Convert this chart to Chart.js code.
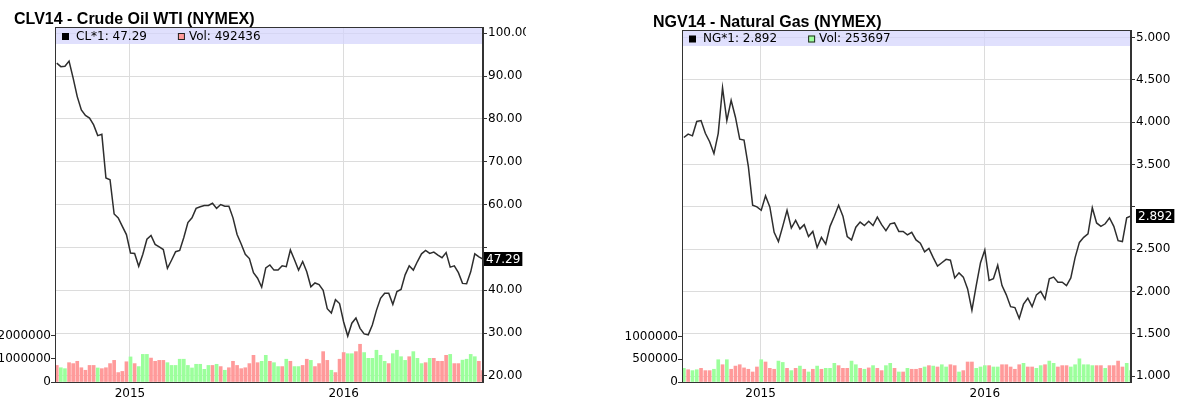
<!DOCTYPE html>
<html><head><meta charset="utf-8">
<script src="https://cdn.jsdelivr.net/npm/chart.js@4.4.1/dist/chart.umd.min.js"></script>
<style>
html,body{margin:0;padding:0;background:#fff;width:1177px;height:401px;overflow:hidden}
.box{position:absolute;top:0;height:401px}
#b1{left:0;width:526px}
#b2{left:600px;width:577px}
canvas{display:block}
</style></head><body>
<div class="box" id="b1"><canvas id="c1" width="526" height="401"></canvas></div>
<div class="box" id="b2"><canvas id="c2" width="577" height="401"></canvas></div>
<script>
// ---------- data ----------
const weeks = [
'2014-08-29','2014-09-05','2014-09-12','2014-09-19','2014-09-26','2014-10-03','2014-10-10','2014-10-17','2014-10-24','2014-10-31',
'2014-11-07','2014-11-14','2014-11-21','2014-11-28','2014-12-05','2014-12-12','2014-12-19','2014-12-26',
'2015-01-02','2015-01-09','2015-01-16','2015-01-23','2015-01-30','2015-02-06','2015-02-13','2015-02-20','2015-02-27',
'2015-03-06','2015-03-13','2015-03-20','2015-03-27','2015-04-03','2015-04-10','2015-04-17','2015-04-24',
'2015-05-01','2015-05-08','2015-05-15','2015-05-22','2015-05-29','2015-06-05','2015-06-12','2015-06-19','2015-06-26',
'2015-07-03','2015-07-10','2015-07-17','2015-07-24','2015-07-31','2015-08-07','2015-08-14','2015-08-21','2015-08-28',
'2015-09-04','2015-09-11','2015-09-18','2015-09-25','2015-10-02','2015-10-09','2015-10-16','2015-10-23','2015-10-30',
'2015-11-06','2015-11-13','2015-11-20','2015-11-27','2015-12-04','2015-12-11','2015-12-18','2015-12-25',
'2016-01-01','2016-01-08','2016-01-15','2016-01-22','2016-01-29','2016-02-05','2016-02-12','2016-02-19','2016-02-26',
'2016-03-04','2016-03-11','2016-03-18','2016-03-25','2016-04-01','2016-04-08','2016-04-15','2016-04-22','2016-04-29',
'2016-05-06','2016-05-13','2016-05-20','2016-05-27','2016-06-03','2016-06-10','2016-06-17','2016-06-24',
'2016-07-01','2016-07-08','2016-07-15','2016-07-22','2016-07-29','2016-08-05','2016-08-12','2016-08-19','2016-08-26'
];
const axisStartDate = '2014-08-26';
const axisEndDate = '2016-08-26';
const yearTickDates = ['2015-01-01','2016-01-01'];
const yearTickLabels = ['2015','2016'];

const clPrice = [
93.0,92.2,92.3,93.5,89.5,85.2,82.1,80.8,80.2,78.6,
76.1,76.4,66.2,65.8,57.8,56.9,54.9,53.0,48.7,48.6,
45.6,48.4,51.9,52.8,50.7,50.1,49.5,45.1,47.0,49.0,
49.3,52.3,55.8,56.9,59.1,59.5,59.8,59.8,60.3,59.1,
60.0,59.6,59.6,56.9,53.0,50.8,48.4,47.4,44.1,42.8,
40.7,45.2,45.9,44.7,44.7,45.7,45.5,49.4,47.1,44.7,
46.7,44.3,40.8,41.7,41.3,40.0,35.7,34.7,37.8,36.9,
32.6,29.3,32.3,33.5,31.1,29.8,29.6,31.9,35.3,38.1,
39.3,39.3,36.7,39.7,40.2,43.6,45.7,44.7,46.7,48.5,
49.3,48.6,48.9,48.2,47.6,48.8,45.4,45.7,44.1,41.6,
41.5,44.3,48.5,47.8,47.29
];
const clVolume = [
720000,620000,580000,840000,800000,900000,620000,510000,720000,720000,
610000,580000,620000,800000,940000,410000,460000,880000,1090000,800000,
670000,1200000,1200000,1040000,900000,940000,940000,840000,720000,720000,
990000,990000,720000,610000,770000,770000,550000,720000,720000,770000,
670000,510000,620000,900000,720000,580000,620000,800000,1160000,840000,
900000,1160000,900000,840000,670000,670000,990000,900000,670000,670000,
720000,990000,940000,670000,800000,1320000,940000,510000,410000,990000,
1280000,1230000,1230000,1320000,1640000,1280000,1030000,1030000,1380000,1160000,
900000,800000,1230000,1380000,1100000,940000,1100000,1320000,1030000,800000,
840000,1030000,1030000,900000,900000,1160000,1200000,800000,800000,950000,
990000,1200000,1100000,900000,492436
];
const clVolDir = ('rggrrrrrrr'+'grrrrrrrgr'+'gggrrrrggg'+'ggggggggrg'+'rgrrrrrrrr'+
                  'ggrggrgrgg'+'rrgrrrrgrr'+'rggrrggggg'+'grggggrggg'+'rgrrrrgrrg'+'gggrr').split('');

const ngPrice = [
3.82,3.86,3.84,4.01,4.02,3.87,3.77,3.63,3.87,4.41,
4.02,4.26,4.06,3.80,3.79,3.48,3.02,3.00,2.96,3.13,
3.00,2.70,2.59,2.77,2.96,2.75,2.84,2.74,2.79,2.65,
2.71,2.52,2.64,2.56,2.77,2.89,3.02,2.89,2.65,2.61,
2.76,2.82,2.78,2.83,2.78,2.88,2.79,2.72,2.80,2.81,
2.71,2.71,2.67,2.70,2.61,2.57,2.47,2.51,2.40,2.30,
2.34,2.38,2.37,2.16,2.22,2.17,2.03,1.78,2.07,2.34,
2.49,2.13,2.15,2.31,2.07,1.96,1.82,1.81,1.68,1.85,
1.92,1.82,1.96,2.00,1.91,2.15,2.17,2.11,2.11,2.07,
2.16,2.40,2.58,2.64,2.68,2.99,2.81,2.77,2.80,2.87,
2.77,2.60,2.59,2.87,2.892
];
const ngVolume = [
300000,270000,250000,270000,300000,250000,250000,280000,490000,380000,
490000,280000,350000,380000,310000,280000,220000,330000,490000,440000,
300000,280000,460000,430000,300000,250000,300000,350000,280000,220000,
280000,350000,280000,300000,300000,410000,360000,300000,300000,460000,
380000,300000,280000,310000,360000,300000,250000,360000,410000,300000,
220000,220000,300000,280000,280000,300000,330000,360000,350000,330000,
380000,330000,380000,360000,220000,250000,440000,440000,300000,330000,
360000,360000,330000,330000,380000,380000,330000,280000,380000,410000,
330000,330000,300000,360000,380000,460000,410000,330000,360000,360000,
330000,380000,510000,380000,380000,360000,360000,360000,300000,360000,
360000,460000,330000,410000,253697
];
const ngVolDir = ('grggrrrggr'+'grrrrrrrgr'+'rrggrgrgrg'+'rgrgggrrrg'+'grgrgrrggr'+
                  'grgrrrgrgr'+'ggrrgrrrgg'+'grggrrrrrg'+'rrggrggrrr'+'ggggggrrgr'+'rrrgg').split('');

const clPriceTicks = [20,30,40,50,60,70,80,90,100];
const ngPriceTicks = [1.0,1.5,2.0,2.5,3.0,3.5,4.0,4.5,5.0];
const clVolTicks = [0,1000000,2000000];
const ngVolTicks = [0,500000,1000000];

// ---------- drawing ----------
Chart.defaults.font.family = '"DejaVu Sans", sans-serif';
Chart.defaults.font.size = 12;
Chart.defaults.color = '#000';

function dayNum(s){ return Date.UTC(+s.slice(0,4), +s.slice(5,7)-1, +s.slice(8,10))/86400000; }
const RED = '#ff9a9a', GREEN = '#9cff9c';

function panel(o){
  const plotH = 382 - o.top;
  const pxPerUnit = plotH / (o.pMax - o.pMin);
  const last = o.price[o.price.length-1];
  const lastVol = o.vol[o.vol.length-1];
  const lastDir = o.dir[o.dir.length-1];
  const decor = {
    id:'decor',
    beforeDatasetsDraw(ch){
      const a = ch.chartArea, c = ch.ctx;
      c.save();
      c.fillStyle = 'rgba(212,212,252,0.72)';
      c.fillRect(a.left+1, a.top+1, a.right-a.left-2, o.band);
      c.restore();
    },
    afterDraw(ch){
      const a = ch.chartArea, c = ch.ctx;
      c.save();
      c.strokeStyle = '#333'; c.lineWidth = 1;
      c.strokeRect(Math.round(a.left)+0.5, Math.round(a.top)+0.5, Math.round(a.right-a.left)-1, Math.round(a.bottom-a.top));
      c.font = '12px "DejaVu Sans"';
      c.textBaseline = 'middle';
      const ly = a.top + o.band/2 + 1.5;
      c.fillStyle = '#000';
      c.fillRect(a.left+7, ly-3.5, 7, 7);
      const t1 = o.sym + ': ' + last.toFixed(o.dec);
      c.fillText(t1, a.left+21, ly);
      const sx = a.left + 21 + c.measureText(t1).width + 31;
      c.fillStyle = lastDir === 'g' ? GREEN : RED;
      c.fillRect(sx, ly-3.5, 7, 7);
      c.strokeStyle = '#222';
      c.strokeRect(sx+0.5, ly-3.5+0.5, 6, 6);
      c.fillStyle = '#000';
      c.fillText('Vol: ' + lastVol, sx+11, ly);
      c.font = 'bold 16px "Liberation Sans"';
      c.textBaseline = 'alphabetic';
      c.fillText(o.title, o.titleX, o.titleY);
      const y = ch.scales.yp.getPixelForValue(last);
      c.font = '12px "DejaVu Sans"';
      const txt = last.toFixed(o.dec);
      const w = c.measureText(txt).width;
      c.fillStyle = '#000';
      c.fillRect(a.right + o.boxOff, Math.round(y) - 7, w + 4, 14);
      c.fillStyle = '#fff';
      c.textBaseline = 'middle';
      c.fillText(txt, a.right + o.boxOff + 2, Math.round(y) + 0.5);
      c.restore();
    }
  };
  return new Chart(document.getElementById(o.canvas), {
    data: {
      datasets: [
        { type:'line', yAxisID:'yp', xAxisID:'x', order:0,
          data: weeks.map((d,i)=>({x:dayNum(d), y:o.price[i]})),
          borderColor:'#2e2e2e', borderWidth:1.5, pointRadius:0, tension:0, fill:false },
        { type:'bar', yAxisID:'yv', xAxisID:'x', order:1,
          data: weeks.map((d,i)=>({x:dayNum(d), y:o.vol[i]})),
          backgroundColor: o.dir.map(s => s==='g' ? GREEN : RED),
          barThickness:3, borderWidth:0 }
      ]
    },
    options: {
      responsive:false, animation:false, devicePixelRatio:1,
      layout:{ padding:{ top:o.top, left:0, right:0, bottom:0 } },
      plugins:{ legend:{display:false}, tooltip:{enabled:false}, title:{display:false} },
      scales:{
        x:{ type:'linear', position:'bottom', offset:false, min:dayNum(axisStartDate), max:dayNum(axisEndDate),
            afterBuildTicks: s => { s.ticks = yearTickDates.map(d => ({value:dayNum(d)})); },
            ticks:{ autoSkip:false, maxRotation:0, padding:1,
              callback: v => { const i = yearTickDates.findIndex(d => dayNum(d) === v); return i >= 0 ? yearTickLabels[i] : ''; } },
            grid:{ offset:false, color:'#dcdcdc', tickLength:4, tickColor:'rgba(0,0,0,0)' },
            border:{ color:'#333' },
            afterFit: s => { s.height = 401 - 382; } },
        yp:{ type:'linear', position:'right', min:o.pMin, max:o.pMax,
            afterBuildTicks: s => { s.ticks = o.pTicks.map(v => ({value:v})); },
            ticks:{ padding:1, autoSkip:false,
              callback: v => (Math.abs(v - last) * pxPerUnit < 13) ? '' : v.toFixed(o.dec) },
            grid:{ color:'#dcdcdc', tickLength:4, tickColor:'#333' },
            border:{ color:'#333' },
            afterFit: s => { s.width = o.rightW; } },
        yv:{ type:'linear', position:'left', min:0, max:o.vMax,
            afterBuildTicks: s => { s.ticks = o.vTicks.map(v => ({value:v})); },
            ticks:{ padding:0, autoSkip:false, callback: v => String(v) },
            grid:{ drawOnChartArea:false, tickLength:4, tickColor:'#333' },
            border:{ color:'#333' },
            afterFit: s => { s.width = o.leftW; } }
      }
    },
    plugins:[decor]
  });
}

panel({ canvas:'c1', title:'CLV14 - Crude Oil WTI (NYMEX)', titleX:14, titleY:24,
  sym:'CL*1', dec:2, price:clPrice, vol:clVolume, dir:clVolDir,
  pTicks:clPriceTicks, vTicks:clVolTicks, pMin:18.58, pMax:101.45, vMax:15430000,
  top:27, band:16, leftW:55, rightW:526-483, boxOff:1 });

panel({ canvas:'c2', title:'NGV14 - Natural Gas (NYMEX)', titleX:53, titleY:27,
  sym:'NG*1', dec:3, price:ngPrice, vol:ngVolume, dir:ngVolDir,
  pTicks:ngPriceTicks, vTicks:ngVolTicks, pMin:0.930, pMax:5.091, vMax:7740000,
  top:30, band:15, leftW:82, rightW:577-531, boxOff:5 });
</script>
</body></html>
